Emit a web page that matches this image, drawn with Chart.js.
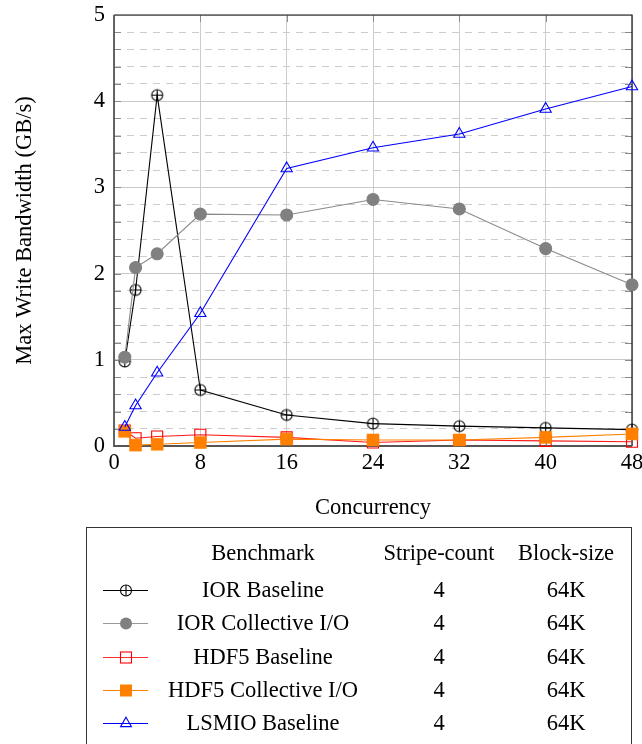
<!DOCTYPE html>
<html>
<head>
<meta charset="utf-8">
<script src="https://cdn.jsdelivr.net/npm/chart.js@4/dist/chart.umd.min.js"></script>
<style>
  html, body { margin: 0; padding: 0; background: #fff; }
  #wrap { position: relative; width: 642px; height: 744px; overflow: hidden; background: #fff; }
  #chart { position: absolute; left: 0; top: 0; }
  #legend { position: absolute; left: 86px; top: 527px; width: 546px; height: 260px; border: 1px solid #333; box-sizing: border-box; }
  .lt { position: absolute; font-family: 'Liberation Serif', 'Times New Roman', serif; font-size: 22.5px; line-height: 1; white-space: nowrap; color: #000; transform: translateX(-50%); }
  #legendSamples { position: absolute; left: 0; top: 0; }
</style>
</head>
<body>
<div id="wrap">
  <canvas id="chart" width="642" height="530"></canvas>
  <div id="legend"></div>
  <canvas id="legendSamples" width="642" height="744"></canvas>
  <div id="legendText"></div>
</div>
<script>
// ---- Data ----
const concurrency = [1, 2, 4, 8, 16, 24, 32, 40, 48];
const iorBaseline    = [0.98, 1.81, 4.07, 0.65, 0.36, 0.26, 0.23, 0.21, 0.19];
const iorCollective  = [1.03, 2.07, 2.23, 2.69, 2.68, 2.86, 2.75, 2.29, 1.87];
const hdf5Baseline   = [0.18, 0.09, 0.11, 0.13, 0.10, 0.04, 0.07, 0.06, 0.05];
const hdf5Collective = [0.17, 0.01, 0.02, 0.04, 0.08, 0.07, 0.07, 0.10, 0.14];
const lsmioBaseline  = [0.22, 0.47, 0.85, 1.54, 3.22, 3.46, 3.62, 3.91, 4.17];

const seriesNames  = ['IOR Baseline', 'IOR Collective I/O', 'HDF5 Baseline', 'HDF5 Collective I/O', 'LSMIO Baseline'];
const stripeCounts = ['4', '4', '4', '4', '4'];
const blockSizes   = ['64K', '64K', '64K', '64K', '64K'];
const legendHeaders = ['Benchmark', 'Stripe-count', 'Block-size'];
const xTickValues = [0, 8, 16, 24, 32, 40, 48];
const yTickValues = [0, 1, 2, 3, 4, 5];

const FONT = "'Liberation Serif', 'Times New Roman', serif";
const FS = 22.5;

function pts(arr) { return concurrency.map((x, i) => ({ x: x, y: arr[i] })); }

// marker drawing shared with the legend
function drawMarker(ctx, kind, x, y) {
  ctx.save();
  ctx.lineWidth = 1.1;
  if (kind === 'oplus') {
    ctx.strokeStyle = '#000';
    ctx.beginPath(); ctx.arc(x, y, 5.5, 0, Math.PI * 2); ctx.stroke();
    ctx.beginPath(); ctx.moveTo(x - 5.5, y); ctx.lineTo(x + 5.5, y);
    ctx.moveTo(x, y - 5.5); ctx.lineTo(x, y + 5.5); ctx.stroke();
  } else if (kind === 'dot') {
    ctx.fillStyle = '#808080';
    ctx.beginPath(); ctx.arc(x, y, 6, 0, Math.PI * 2); ctx.fill();
  } else if (kind === 'square') {
    ctx.strokeStyle = '#ff0000';
    ctx.strokeRect(x - 5.5, y - 5.5, 11, 11);
  } else if (kind === 'fsquare') {
    ctx.fillStyle = '#ff8000';
    ctx.fillRect(x - 6, y - 6, 12, 12);
  } else if (kind === 'tri') {
    ctx.strokeStyle = '#0000ff';
    const r = 6.3;
    ctx.beginPath();
    ctx.moveTo(x, y - r);
    ctx.lineTo(x + r * 0.866, y + r * 0.5);
    ctx.lineTo(x - r * 0.866, y + r * 0.5);
    ctx.closePath(); ctx.stroke();
  }
  ctx.restore();
}

const oplusCanvas = document.createElement('canvas');
oplusCanvas.width = 15; oplusCanvas.height = 15;
drawMarker(oplusCanvas.getContext('2d'), 'oplus', 7.5, 7.5);

const isMajor = v => Math.abs(v - Math.round(v)) < 1e-6;

const framePlugin = {
  id: 'frame',
  beforeDatasetsDraw(chart) {
    const { ctx, chartArea: { left, right, top, bottom } } = chart;
    const ys = chart.scales.y, xs = chart.scales.x;
    ctx.save();
    ctx.strokeStyle = '#8a8a8a';
    ctx.lineWidth = 1;
    for (let i = 1; i < 25; i++) {
      const py = Math.round(ys.getPixelForValue(i * 0.2)) + 0.5;
      ctx.beginPath();
      ctx.moveTo(left, py); ctx.lineTo(left + 7, py);
      ctx.moveTo(right - 7, py); ctx.lineTo(right, py);
      ctx.stroke();
    }
    xTickValues.slice(1, -1).forEach(v => {
      const px = Math.round(xs.getPixelForValue(v)) + 0.5;
      ctx.beginPath();
      ctx.moveTo(px, bottom); ctx.lineTo(px, bottom - 7);
      ctx.moveTo(px, top); ctx.lineTo(px, top + 7);
      ctx.stroke();
    });
    ctx.strokeStyle = '#111';
    ctx.lineWidth = 1.2;
    ctx.beginPath();
    ctx.moveTo(left, top); ctx.lineTo(right, top); ctx.lineTo(right, bottom);
    ctx.stroke();
    ctx.strokeStyle = '#555';
    ctx.lineWidth = 1.8;
    ctx.beginPath();
    ctx.moveTo(left, top); ctx.lineTo(left, bottom); ctx.lineTo(right, bottom);
    ctx.stroke();
    ctx.restore();
  }
};

const chart = new Chart(document.getElementById('chart'), {
  type: 'line',
  data: {
    datasets: [
      { label: seriesNames[0], data: pts(iorBaseline), borderColor: '#000', borderWidth: 1.1,
        pointStyle: oplusCanvas, pointRadius: 6, order: 5, clip: false, tension: 0 },
      { label: seriesNames[1], data: pts(iorCollective), borderColor: '#8a8a8a', borderWidth: 1.1,
        pointStyle: 'circle', pointRadius: 6, pointBackgroundColor: '#808080', pointBorderColor: '#808080',
        order: 4, clip: false, tension: 0 },
      { label: seriesNames[2], data: pts(hdf5Baseline), borderColor: '#ff1a1a', borderWidth: 1.1,
        pointStyle: 'rect', pointRadius: 7.8, pointBackgroundColor: 'rgba(0,0,0,0)', pointBorderColor: '#ff0000',
        pointBorderWidth: 1.1, order: 3, clip: false, tension: 0 },
      { label: seriesNames[3], data: pts(hdf5Collective), borderColor: '#ff8000', borderWidth: 1.1,
        pointStyle: 'rect', pointRadius: 8.5, pointBackgroundColor: '#ff8000', pointBorderColor: '#ff8000',
        pointBorderWidth: 0.5, order: 2, clip: false, tension: 0 },
      { label: seriesNames[4], data: pts(lsmioBaseline), borderColor: '#0000ff', borderWidth: 1.1,
        pointStyle: 'triangle', pointRadius: 6.5, pointBackgroundColor: 'rgba(0,0,0,0)', pointBorderColor: '#0000ff',
        pointBorderWidth: 1.1, order: 1, clip: false, tension: 0 }
    ]
  },
  options: {
    responsive: false,
    animation: false,
    devicePixelRatio: 1,
    layout: { padding: { top: 15, right: 10, left: 0, bottom: 0 } },
    plugins: { legend: { display: false }, tooltip: { enabled: false } },
    scales: {
      x: {
        type: 'linear', min: 0, max: 48,
        afterBuildTicks: s => { s.ticks = xTickValues.map(v => ({ value: v })); },
        afterFit: s => { s.height = 84; s.paddingLeft = 0; s.paddingRight = 0; },
        ticks: { color: '#000', font: { family: FONT, size: FS }, padding: 4, maxRotation: 0, autoSkip: false },
        grid: { color: '#cccccc', lineWidth: 1, drawTicks: false },
        border: { display: false },
        title: { display: true, text: 'Concurrency', color: '#000', font: { family: FONT, size: FS },
                 padding: { top: 0, bottom: 8.5 } }
      },
      y: {
        type: 'linear', min: 0, max: 5,
        afterBuildTicks: s => {
          const t = [];
          for (let i = 0; i <= 25; i++) t.push({ value: i / 5 });
          s.ticks = t;
        },
        afterFit: s => { s.width = 114; s.paddingTop = 0; s.paddingBottom = 0; },
        ticks: {
          color: '#000', font: { family: FONT, size: FS }, padding: 9, autoSkip: false,
          callback: v => (isMajor(v) && yTickValues.includes(Math.round(v))) ? String(Math.round(v)) : ''
        },
        grid: {
          color: ctx => (ctx.tick && isMajor(ctx.tick.value)) ? '#c8c8c8' : '#cccccc',
          lineWidth: 1, drawTicks: false
        },
        border: {
          display: false,
          dash: ctx => (ctx.tick && !isMajor(ctx.tick.value)) ? [7, 6] : []
        },
        title: { display: true, text: 'Max Write Bandwidth (GB/s)', color: '#000', font: { family: FONT, size: FS },
                 padding: { top: 11.5, bottom: 0 } }
      }
    }
  },
  plugins: [framePlugin]
});

// ---- Legend table ----
const legendKinds = ['oplus', 'dot', 'square', 'fsquare', 'tri'];
const legendLineColors = ['#000', '#999999', '#ff3030', '#ff8000', '#0000ff'];
const rowY = [590, 623, 657, 690, 723];
const headerY = 553;
const colX = [263, 439, 566];

const lc = document.getElementById('legendSamples').getContext('2d');
legendKinds.forEach((k, i) => {
  const y = rowY[i] + 0.5;
  lc.save();
  lc.strokeStyle = legendLineColors[i];
  lc.lineWidth = 1.2;
  lc.beginPath(); lc.moveTo(103, y); lc.lineTo(148, y); lc.stroke();
  lc.restore();
  drawMarker(lc, k, 126, y);
});

const lt = document.getElementById('legendText');
function addText(txt, cx, cy) {
  const d = document.createElement('div');
  d.className = 'lt';
  d.textContent = txt;
  d.style.left = cx + 'px';
  d.style.top = (cy - 11.5) + 'px';
  lt.appendChild(d);
}
legendHeaders.forEach((h, j) => addText(h, colX[j], headerY));
seriesNames.forEach((n, i) => {
  addText(n, colX[0], rowY[i]);
  addText(stripeCounts[i], colX[1], rowY[i]);
  addText(blockSizes[i], colX[2], rowY[i]);
});
</script>
</body>
</html>
